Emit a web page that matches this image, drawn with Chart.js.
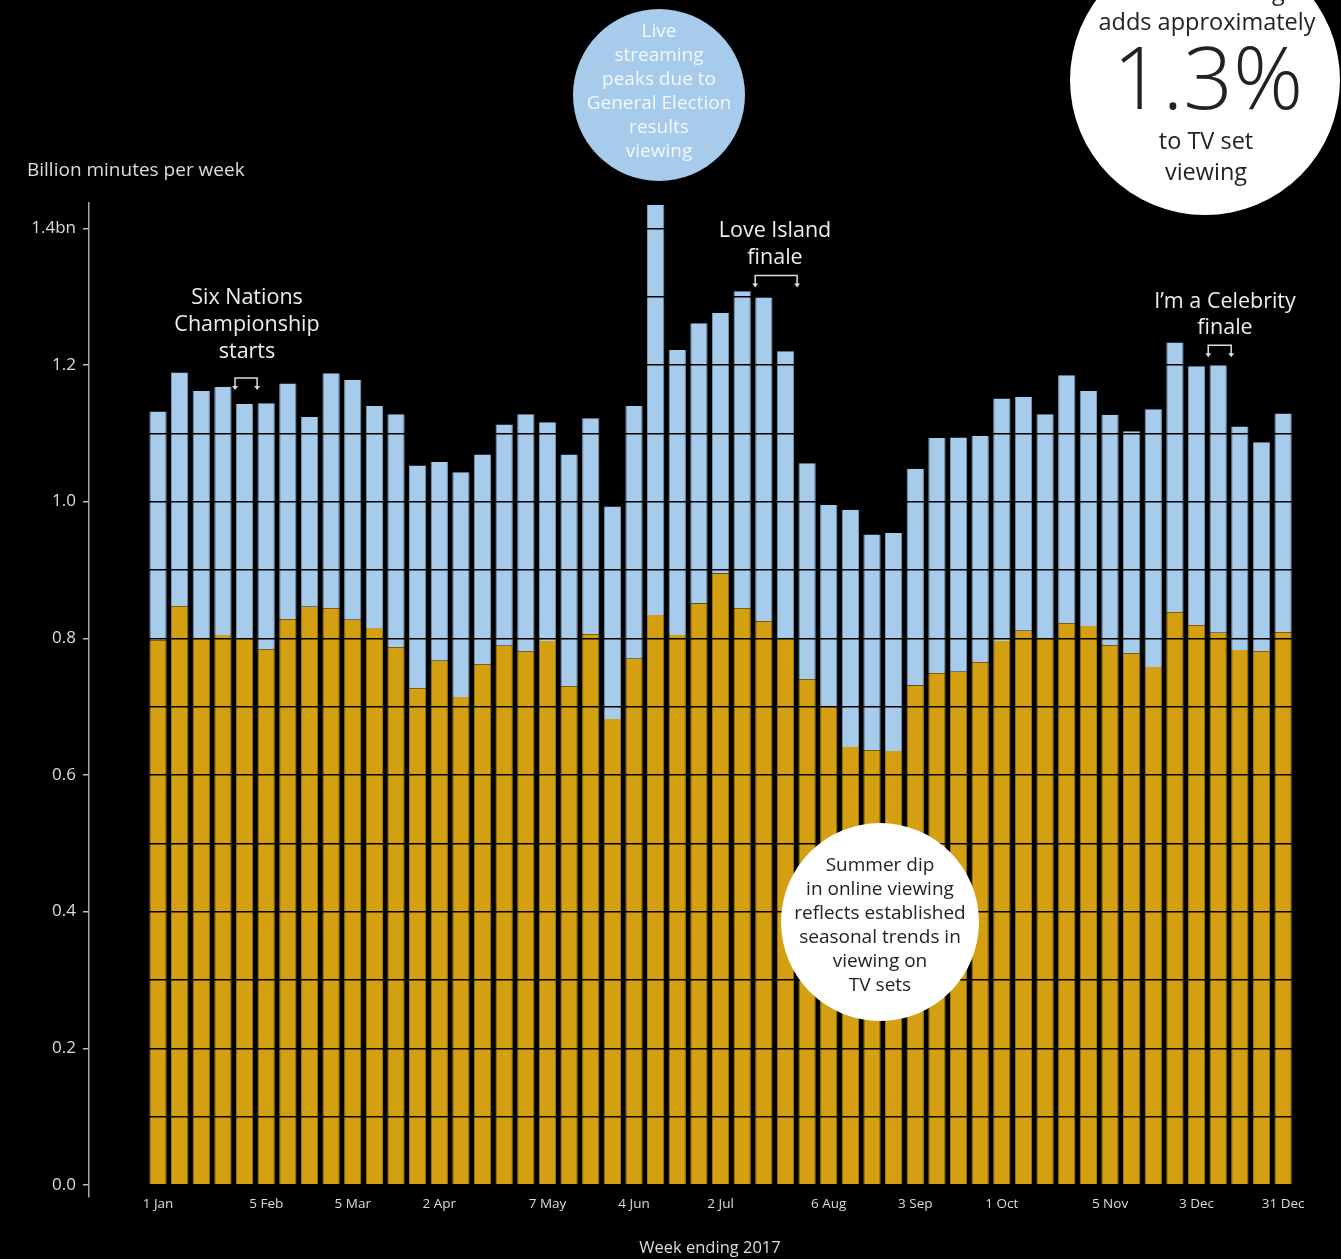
<!DOCTYPE html>
<html>
<head>
<meta charset="utf-8">
<script src="https://cdn.jsdelivr.net/npm/chart.js@4.4.1/dist/chart.umd.min.js"></script>
<style>
  html, body { margin: 0; padding: 0; background: #000; }
  #wrap { width: 1341px; height: 1259px; }
</style>
</head>
<body>
<div id="wrap"><canvas id="chart" width="1341" height="1259"></canvas></div>
<script>
// Week ending dates, 2017 (one bar per week)
var weeks = ['1 Jan','8 Jan','15 Jan','22 Jan','29 Jan','5 Feb','12 Feb','19 Feb','26 Feb','5 Mar','12 Mar','19 Mar','26 Mar',
    '2 Apr','9 Apr','16 Apr','23 Apr','30 Apr','7 May','14 May','21 May','28 May','4 Jun','11 Jun','18 Jun','25 Jun',
    '2 Jul','9 Jul','16 Jul','23 Jul','30 Jul','6 Aug','13 Aug','20 Aug','27 Aug','3 Sep','10 Sep','17 Sep','24 Sep',
    '1 Oct','8 Oct','15 Oct','22 Oct','29 Oct','5 Nov','12 Nov','19 Nov','26 Nov','3 Dec','10 Dec','17 Dec','24 Dec','31 Dec'];

// weeks that get a label on the x axis
var shownWeeks = ['1 Jan','5 Feb','5 Mar','2 Apr','7 May','4 Jun','2 Jul','6 Aug','3 Sep','1 Oct','5 Nov','3 Dec','31 Dec'];

// Billion minutes per week viewed on TV sets (orange, bottom)
var tvSet = [0.797,0.847,0.799,0.805,0.799,0.784,0.828,0.846,0.844,0.827,0.815,0.787,0.727,
    0.767,0.714,0.762,0.789,0.781,0.796,0.730,0.806,0.682,0.770,0.834,0.805,0.851,
    0.895,0.844,0.825,0.799,0.740,0.700,0.641,0.636,0.635,0.731,0.749,0.751,0.765,
    0.796,0.811,0.799,0.822,0.818,0.790,0.778,0.758,0.838,0.819,0.808,0.783,0.781,0.809];

// Billion minutes per week of online viewing (blue, stacked on top)
var online = [0.335,0.342,0.363,0.363,0.344,0.360,0.345,0.278,0.344,0.351,0.325,0.341,0.326,
    0.291,0.329,0.307,0.324,0.347,0.320,0.339,0.316,0.311,0.370,0.600,0.417,0.410,
    0.381,0.464,0.474,0.421,0.316,0.295,0.347,0.316,0.319,0.317,0.344,0.343,0.331,
    0.355,0.342,0.329,0.363,0.344,0.337,0.325,0.377,0.395,0.379,0.392,0.327,0.306,0.320];

var orange = '#d59f12';
var blue = '#a6cbeb';
var fontFam = '"Open Sans", sans-serif';

// brackets: [from week, to week, y value of bracket]
var brackets = [[3.56, 4.58, 1.181], [27.6, 29.54, 1.331], [48.54, 49.6, 1.229]];

function toXY(arr){
    var out = [];
    for (var i = 0; i < arr.length; i++){
        out.push({x: i, y: arr[i]});
    }
    return out;
}

function textLines(ctx, lines, x, y, step){
    for (var i = 0; i < lines.length; i++){
        ctx.fillText(lines[i], x, y + i*step);
    }
}

function drawBracket(ctx, x1, x2, y){
    ctx.save();
    ctx.strokeStyle = '#ddd';
    ctx.fillStyle = '#ddd';
    ctx.lineWidth = 1.5;
    ctx.beginPath();
    ctx.moveTo(x1, y + 9);
    ctx.lineTo(x1, y);
    ctx.lineTo(x2, y);
    ctx.lineTo(x2, y + 9);
    ctx.stroke();
    [x1, x2].forEach(function(x){
        ctx.beginPath();
        ctx.moveTo(x - 3, y + 8);
        ctx.lineTo(x + 3, y + 8);
        ctx.lineTo(x, y + 12);
        ctx.closePath();
        ctx.fill();
    });
    ctx.restore();
}

var annotations = {
    id: 'annotations',
    afterDraw: function(chart){
        var ctx = chart.ctx;
        var xs = chart.scales.x, ys = chart.scales.y;
        ctx.save();
        ctx.textAlign = 'center';
        ctx.textBaseline = 'middle';

        // axis titles
        ctx.fillStyle = '#ddd';
        ctx.font = '19px ' + fontFam;
        ctx.textAlign = 'left';
        ctx.fillText('Billion minutes per week', 27, 171);
        ctx.textAlign = 'center';
        ctx.font = '16.5px ' + fontFam;
        ctx.fillText('Week ending 2017', 710, 1248);

        // event labels
        ctx.fillStyle = '#eee';
        ctx.font = '21.5px ' + fontFam;
        textLines(ctx, ['Six Nations', 'Championship', 'starts'], 247, 298, 27);
        textLines(ctx, ['Love Island', 'finale'], 775, 231, 27);
        textLines(ctx, ['I\u2019m a Celebrity', 'finale'], 1225, 302, 26);
        brackets.forEach(function(b){
            drawBracket(ctx, xs.getPixelForValue(b[0]), xs.getPixelForValue(b[1]), ys.getPixelForValue(b[2]));
        });

        // blue bubble
        ctx.fillStyle = blue;
        ctx.beginPath(); ctx.arc(659, 95, 86, 0, Math.PI*2); ctx.fill();
        ctx.fillStyle = '#f4f8fc';
        ctx.font = '19px ' + fontFam;
        textLines(ctx, ['Live', 'streaming', 'peaks due to', 'General Election', 'results', 'viewing'], 659, 32, 24);

        // top right bubble
        ctx.fillStyle = '#fff';
        ctx.beginPath(); ctx.arc(1205, 80, 135, 0, Math.PI*2); ctx.fill();
        ctx.fillStyle = '#222';
        ctx.font = '23.5px ' + fontFam;
        ctx.fillText('Live streaming', 1205, -7);
        ctx.fillText('adds approximately', 1207, 23);
        ctx.fillText('to TV set', 1206, 142);
        ctx.fillText('viewing', 1206, 173);
        ctx.font = '300 87px ' + fontFam;
        ctx.fillText('1.3%', 1208, 84);

        // summer bubble
        ctx.fillStyle = '#fff';
        ctx.beginPath(); ctx.arc(880, 922, 99, 0, Math.PI*2); ctx.fill();
        ctx.fillStyle = '#222';
        ctx.font = '19px ' + fontFam;
        textLines(ctx, ['Summer dip', 'in online viewing', 'reflects established', 'seasonal trends in', 'viewing on', 'TV sets'], 880, 866, 24);
        ctx.restore();
    }
};

new Chart(document.getElementById('chart').getContext('2d'), {
    type: 'bar',
    data: {
        datasets: [{
            label: 'TV set',
            data: toXY(tvSet),
            backgroundColor: orange,
            borderColor: '#a57c0e',
            borderWidth: {left: 1, right: 1, top: 0, bottom: 0},
            barPercentage: 0.8,
            categoryPercentage: 1
        }, {
            label: 'Online',
            data: toXY(online),
            backgroundColor: blue,
            borderColor: '#7f9cb8',
            borderWidth: {left: 1, right: 1, top: 0, bottom: 0},
            barPercentage: 0.8,
            categoryPercentage: 1
        }]
    },
    options: {
        responsive: false,
        animation: false,
        layout: { padding: { top: 203, right: 46, left: 0, bottom: 0 } },
        plugins: { legend: { display: false }, tooltip: { enabled: false } },
        scales: {
            x: {
                type: 'linear',
                stacked: true,
                offset: false,
                min: -3.19,
                max: 52.55,
                grid: { display: false, drawTicks: false, offset: false },
                border: { display: false },
                afterBuildTicks: function(scale){
                    scale.ticks = shownWeeks.map(function(w){ return { value: weeks.indexOf(w) }; });
                },
                afterFit: function(scale){ scale.height = 62; },
                ticks: {
                    autoSkip: false,
                    maxRotation: 0,
                    padding: -1,
                    color: '#ddd',
                    font: { family: fontFam, size: 13.5 },
                    callback: function(v){ return weeks[v]; }
                }
            },
            y: {
                stacked: true,
                min: -0.0176,
                max: 1.437,
                afterFit: function(scale){ scale.width = 89; },
                border: { display: true, color: '#aaa', width: 1.5, z: 1 },
                grid: {
                    z: 1,
                    color: '#000',
                    lineWidth: 1.5,
                    tickLength: 6,
                    tickWidth: 1.5,
                    tickColor: function(c){
                        var k = Math.round(c.tick.value * 10);
                        return (k % 2 === 0) ? '#bbb' : 'rgba(0,0,0,0)';
                    }
                },
                ticks: {
                    stepSize: 0.1,
                    includeBounds: false,
                    padding: 7,
                    color: '#ddd',
                    font: { family: fontFam, size: 17 },
                    callback: function(v){
                        var k = Math.round(v * 10);
                        if (k % 2 !== 0) return '';
                        if (k === 14) return '1.4bn';
                        return (k / 10).toFixed(1);
                    }
                }
            }
        }
    },
    plugins: [annotations]
});
</script>
</body>
</html>
